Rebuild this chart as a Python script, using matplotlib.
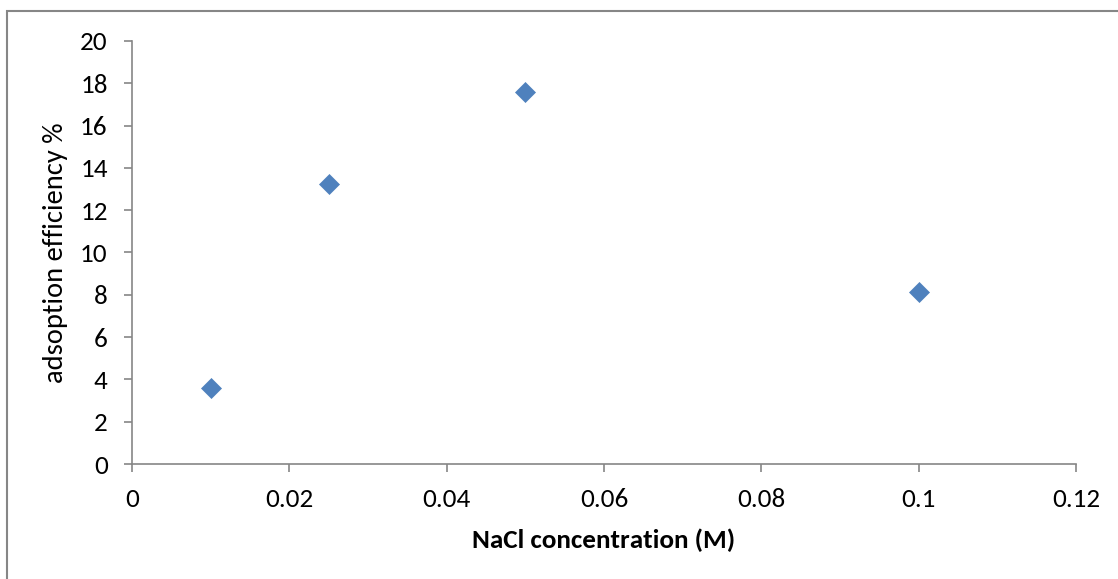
import matplotlib
matplotlib.use("Agg")
from matplotlib import pyplot as plt
from matplotlib.patches import Rectangle

# data
nacl = [0.01, 0.025, 0.05, 0.1]
efficiency = [3.57, 13.22, 17.57, 8.12]
xticks = [0, 0.02, 0.04, 0.06, 0.08, 0.1, 0.12]
xticklabels = ['0', '0.02', '0.04', '0.06', '0.08', '0.1', '0.12']
yticks = [0, 2, 4, 6, 8, 10, 12, 14, 16, 18, 20]

# Carlito is metric-compatible with Calibri (Excel default)
plt.rcParams['font.family'] = ['Carlito', 'DejaVu Sans']
grey = '#868686'

fig = plt.figure(figsize=(11.18, 5.79), dpi=100)
ax = fig.add_axes([132/1118, 1 - 464/579, (1076 - 132)/1118, (464 - 41)/579])

ax.plot(nacl, efficiency, linestyle='none', marker='D', markersize=10.3,
        markeredgewidth=0.5, color='#4F81BD', markeredgecolor='#4F81BD')

ax.set_xlim(0, 0.12)
ax.set_ylim(0, 20)
ax.set_xticks(xticks)
ax.set_xticklabels(xticklabels)
ax.set_yticks(yticks)

for s in ['top', 'right']:
    ax.spines[s].set_visible(False)
for s in ['left', 'bottom']:
    ax.spines[s].set_color(grey)
    ax.spines[s].set_linewidth(1.2)
ax.tick_params(axis='both', direction='out', length=6, width=1.2, color=grey,
               labelsize=19.5, labelcolor='black')
ax.tick_params(axis='x', pad=11)
ax.tick_params(axis='y', pad=11.5)

ax.set_xlabel('NaCl concentration (M)', fontsize=19.5, fontweight='bold', labelpad=13)
ax.set_ylabel('adsoption efficiency %', fontsize=20.5, labelpad=9)

# outer chart border (only left and top edges visible in the crop)
fig.patches.append(Rectangle((7/1118, -0.1), 1.2, 1.1 - 11/579,
                             transform=fig.transFigure, fill=False,
                             edgecolor=grey, linewidth=1.5))

fig.savefig('out.png', dpi=100)
